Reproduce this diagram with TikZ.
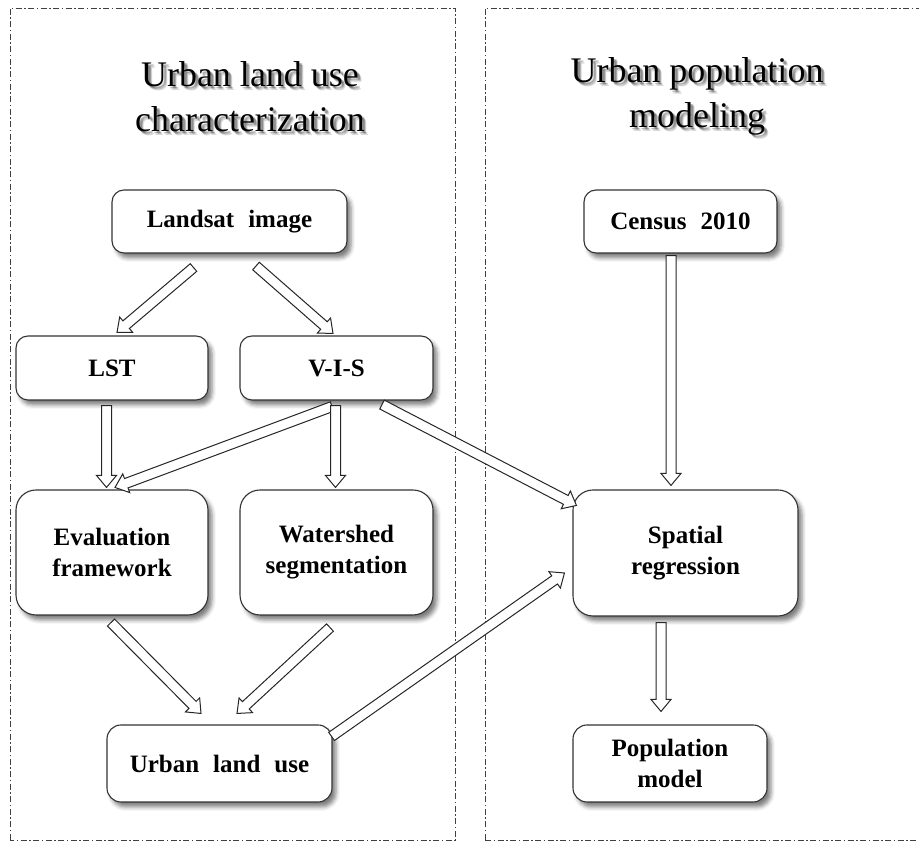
\documentclass[tikz,border=0pt]{standalone}
\usepackage{fontspec}
\setmainfont{Liberation Serif}
\usetikzlibrary{calc,shadows.blur}

% hollow block arrow from #1 to #2 (tip at #2)
\newcommand\blockarrow[2]{%
  \coordinate (ba-n) at ($(#2)!12pt!(#1)$);
  \draw[barrow] ($(#1)!5pt!90:(#2)$) -- ($(ba-n)!5pt!90:(#2)$)
    -- ($(ba-n)!10pt!90:(#2)$) -- (#2) -- ($(ba-n)!10pt!-90:(#2)$)
    -- ($(ba-n)!5pt!-90:(#2)$) -- ($(#1)!5pt!-90:(#2)$) -- cycle;}

% heading text with a soft drop shadow
\newcommand\shadowtitle[3]{%
  \foreach \dx/\dy in {2/-2,3/-3,4/-4,3/-2}
    \node[title, text=black, opacity=0.15] at ($(#1)+(\dx,\dy)$) {#3};
  \node[title] (#2) at (#1) {#3};}

\newcommand\widespaces{\spaceskip=0.56em plus 0.1em\relax}

\begin{document}
\begin{tikzpicture}[x=1pt,y=1pt,
  box/.style={draw=black!80, line width=1.1pt, fill=white, rounded corners=12pt,
    align=center, inner sep=0pt,
    font=\bfseries\fontsize{25}{31}\selectfont,
    execute at begin node=\widespaces,
    blur shadow={shadow xshift=4pt, shadow yshift=-5pt, shadow blur radius=4pt,
      shadow opacity=50}},
  tallbox/.style={box, rounded corners=20pt},
  frame/.style={draw=black!75, line width=0.9pt,
    dash pattern=on 6pt off 2.5pt on 1.5pt off 2.5pt},
  barrow/.style={draw=black!85, line width=1pt, fill=white, line join=miter},
  title/.style={font=\fontsize{36}{45}\selectfont, anchor=base, inner sep=0pt},
]
\useasboundingbox (0,0) rectangle (919,842);

% the two panels
\draw[frame] (10,2) rectangle (455,834);
\draw[frame] (485,2) -- (485,834) -- (930,834);
\draw[frame] (485,2) -- (930,2);

% headings
\coordinate (tl1) at (250,755);
\coordinate (tl2) at (250,710);
\coordinate (tr1) at (697,759);
\coordinate (tr2) at (697,714);
\shadowtitle{tl1}{titleL1}{Urban land use}
\shadowtitle{tl2}{titleL2}{characterization}
\shadowtitle{tr1}{titleR1}{Urban population}
\shadowtitle{tr2}{titleR2}{modeling}

% process boxes
\node[box, minimum width=235, minimum height=63] (lsat) at (229.5,620.5) {Landsat image};
\node[box, minimum width=193, minimum height=63] (census) at (680.5,620.5) {Census 2010};
\node[box, minimum width=192, minimum height=64] (lst) at (112,474) {LST};
\node[box, minimum width=193, minimum height=64] (vis) at (336.5,474) {V-I-S};
\node[tallbox, minimum width=192, minimum height=125] (eval) at (112,289.5) {Evaluation\\framework};
\node[tallbox, minimum width=193, minimum height=125] (water) at (336.5,289.5) {Watershed\\segmentation};
\node[tallbox, minimum width=225, minimum height=126] (spat) at (685.5,289) {Spatial\\regression};
\node[box, rounded corners=14pt, minimum width=225, minimum height=77] (ulu) at (219.5,78.5) {Urban land use};
\node[box, rounded corners=14pt, minimum width=194, minimum height=77] (pop) at (670,78.5) {Population\\model};

% connector end points
\coordinate (a1s) at ($(lsat.south)+(-36,-14)$);
\coordinate (a1e) at ($(lst.north)+(5,3)$);
\coordinate (a2s) at ($(lsat.south)+(26.5,-12.5)$);
\coordinate (a2e) at ($(vis.north)+(-3.5,2)$);
\coordinate (a3s) at ($(lst.south)+(-5.5,-5)$);
\coordinate (a3e) at ($(eval.north)+(-5.5,2)$);
\coordinate (a4s) at ($(vis.south)+(-4.5,-6)$);
\coordinate (a4e) at ($(eval.north)+(3,2)$);
\coordinate (a5s) at ($(vis.south)+(-1,-5)$);
\coordinate (a5e) at ($(water.north)+(-1,2)$);
\coordinate (a6s) at ($(vis.south)+(45.5,-4)$);
\coordinate (a6e) at ($(spat.north west)+(4,-16)$);
\coordinate (a7s) at ($(census.south)+(-9.5,-2)$);
\coordinate (a7e) at ($(spat.north)+(-14.5,4)$);
\coordinate (a8s) at ($(spat.south)+(-24.5,-6)$);
\coordinate (a8e) at ($(pop.north)+(-9,13)$);
\coordinate (a9s) at ($(eval.south)+(-1,-7)$);
\coordinate (a9e) at ($(ulu.north)+(-18.5,11)$);
\coordinate (a10s) at ($(water.south)+(-6.5,-12)$);
\coordinate (a10e) at ($(ulu.north)+(17.5,11)$);
\coordinate (a11s) at ($(ulu.north east)+(-1,-12)$);
\coordinate (a11e) at ($(spat.west)+(-8,-20)$);

% connectors
\blockarrow{a1s}{a1e}
\blockarrow{a2s}{a2e}
\blockarrow{a3s}{a3e}
\blockarrow{a4s}{a4e}
\blockarrow{a5s}{a5e}
\blockarrow{a6s}{a6e}
\blockarrow{a7s}{a7e}
\blockarrow{a8s}{a8e}
\blockarrow{a9s}{a9e}
\blockarrow{a10s}{a10e}
\blockarrow{a11s}{a11e}
\end{tikzpicture}
\end{document}
